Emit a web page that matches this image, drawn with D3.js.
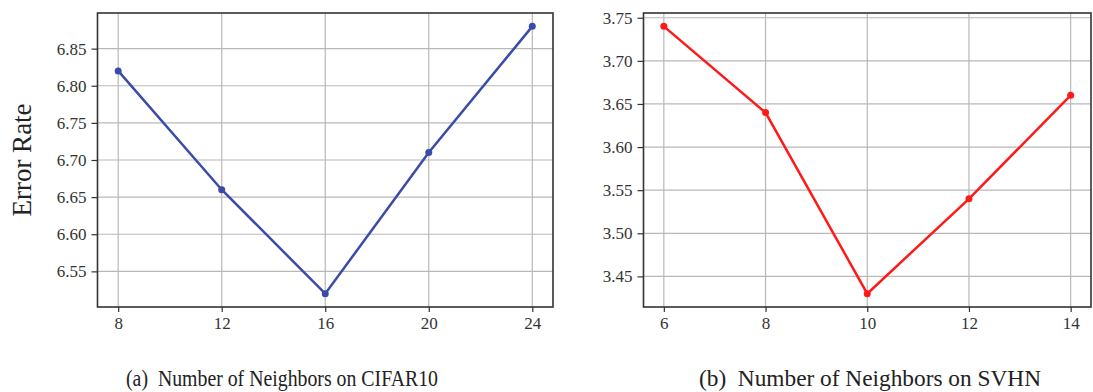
<!DOCTYPE html>
<html>
<head>
<meta charset="utf-8">
<script src="https://cdn.jsdelivr.net/npm/d3@7"></script>
<style>
  body { margin: 0; background: #fff; }
  svg text { font-family: "Liberation Serif", "DejaVu Serif", serif; }
</style>
</head>
<body>
<div class="chart"></div>
<script>
// CIFAR10 panel
var cifarK = [8, 12, 16, 20, 24];
var cifarErr = [6.82, 6.66, 6.52, 6.71, 6.88];
var cifarTicksY = [6.55, 6.60, 6.65, 6.70, 6.75, 6.80, 6.85];

// SVHN panel
var svhnK = [6, 8, 10, 12, 14];
var svhnErr = [3.74, 3.64, 3.43, 3.54, 3.66];
var svhnTicksY = [3.45, 3.50, 3.55, 3.60, 3.65, 3.70, 3.75];

var captions = ['(a)\u00a0\u00a0Number of Neighbors on CIFAR10', '(b)\u00a0\u00a0Number of Neighbors on SVHN'];

var W = 1093, H = 392;
var svg = d3.select('.chart').append('svg')
  .attr('width', W)
  .attr('height', H);

var panels = [
  { xs: cifarK, ys: cifarErr, yt: cifarTicksY, color: '#3b4ba8',
    left: 97.5, right: 553, caption: captions[0], capX: 126, capW: 312 },
  { xs: svhnK, ys: svhnErr, yt: svhnTicksY, color: '#ff1a1a',
    left: 643.5, right: 1091, caption: captions[1], capX: 699, capW: 342 }
];
var plotTop = 13, plotBottom = 307;

panels.forEach(function(p) {
  // matplotlib style 5% padding
  var xr = d3.extent(p.xs), yr = d3.extent(p.ys);
  var xpad = (xr[1] - xr[0]) * 0.05, ypad = (yr[1] - yr[0]) * 0.05;

  var x = d3.scaleLinear().domain([xr[0] - xpad, xr[1] + xpad]).range([p.left, p.right]);
  var y = d3.scaleLinear().domain([yr[0] - ypad, yr[1] + ypad]).range([plotBottom, plotTop]);

  var g = svg.append('g');

  // grid
  g.selectAll('.gx').data(p.xs).enter().append('line')
    .attr('x1', d => x(d)).attr('x2', d => x(d))
    .attr('y1', plotTop).attr('y2', plotBottom)
    .style('stroke', '#b8b8b8').style('stroke-width', 1.2);
  g.selectAll('.gy').data(p.yt).enter().append('line')
    .attr('x1', p.left).attr('x2', p.right)
    .attr('y1', d => y(d)).attr('y2', d => y(d))
    .style('stroke', '#b8b8b8').style('stroke-width', 1.2);

  // axes
  var ax = g.append('g')
    .attr('transform', `translate(0, ${plotBottom})`)
    .call(d3.axisBottom(x).tickValues(p.xs).tickSize(5).tickPadding(5));
  var ay = g.append('g')
    .attr('transform', `translate(${p.left}, 0)`)
    .call(d3.axisLeft(y).tickValues(p.yt).tickFormat(d3.format('.2f')).tickSize(6).tickPadding(5));
  [ax, ay].forEach(function(a) {
    a.select('.domain').remove();
    a.selectAll('line').style('stroke', '#333').style('stroke-width', 1.2);
    a.selectAll('text').style('font-family', '"Liberation Serif", serif')
      .style('font-size', '17px').style('fill', '#333');
  });

  // frame
  g.append('rect')
    .attr('x', p.left).attr('y', plotTop)
    .attr('width', p.right - p.left).attr('height', plotBottom - plotTop)
    .style('fill', 'none').style('stroke', '#333').style('stroke-width', 1.6);

  // line + markers
  var pts = p.xs.map((k, i) => [k, p.ys[i]]);
  g.append('path')
    .attr('d', d3.line().x(d => x(d[0])).y(d => y(d[1]))(pts))
    .style('fill', 'none').style('stroke', p.color).style('stroke-width', 2.5);
  g.selectAll('.pt').data(pts).enter().append('circle')
    .attr('cx', d => x(d[0])).attr('cy', d => y(d[1])).attr('r', 3.5)
    .style('fill', p.color);

  // caption
  g.append('text')
    .attr('x', p.capX).attr('y', 386)
    .attr('textLength', p.capW).attr('lengthAdjust', 'spacingAndGlyphs')
    .style('font-size', '23px').style('fill', '#222')
    .text(p.caption);
});

// y-axis title
svg.append('text')
  .attr('transform', 'translate(31, 160) rotate(-90)')
  .attr('text-anchor', 'middle')
  .style('font-size', '27px').style('fill', '#222')
  .text('Error Rate');
</script>
</body>
</html>
